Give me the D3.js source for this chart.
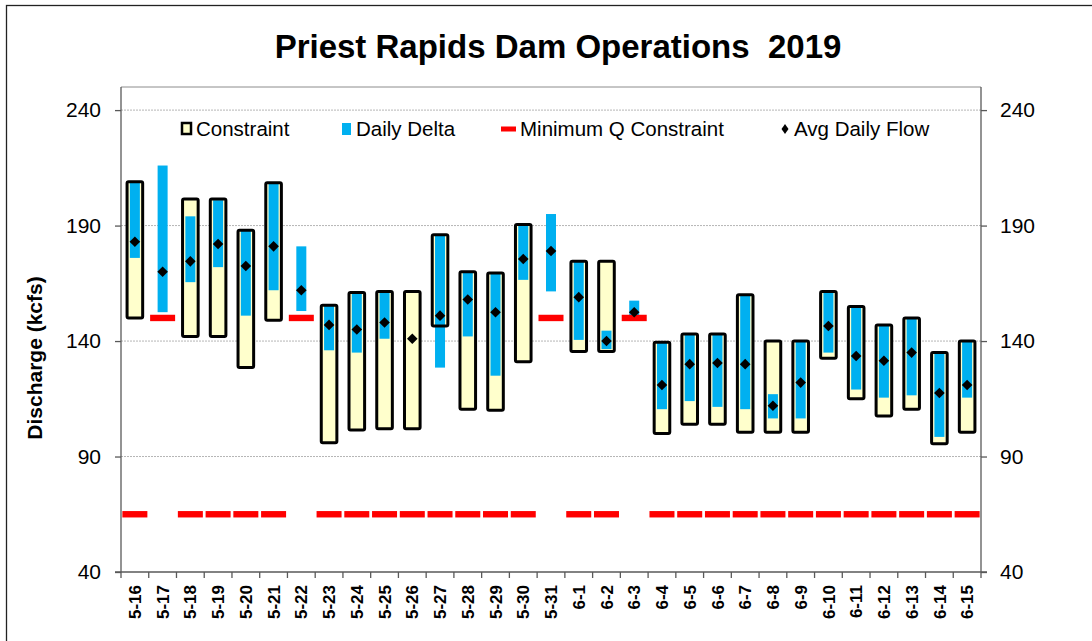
<!DOCTYPE html>
<html>
<head>
<meta charset="utf-8">
<script src="https://cdn.jsdelivr.net/npm/d3@7"></script>
<style>
  body { margin: 0; background: #fff; }
  svg { display: block; font-family: Arial, "Liberation Sans", sans-serif; }
</style>
</head>
<body>
<div id="chart"></div>
<script>
// Priest Rapids Dam Operations 2019 (kcfs)
const dates = ["5-16","5-17","5-18","5-19","5-20","5-21","5-22","5-23","5-24","5-25","5-26",
    "5-27","5-28","5-29","5-30","5-31","6-1","6-2","6-3","6-4","6-5","6-6","6-7","6-8",
    "6-9","6-10","6-11","6-12","6-13","6-14","6-15"];

const constraintMax = [209, null, 201.5, 201.5, 188, 208.5, null, 155.5, 161, 161.5, 161.5,
    186, 170, 169.5, 190.5, null, 174.5, 174.5, null, 139.5, 143, 143, 160, 140,
    140, 161.5, 155, 147, 150, 135, 140];
const constraintMin = [150, null, 142, 142, 128.5, 149, null, 96, 101.5, 102, 102,
    146.5, 110.5, 110, 131, null, 135.5, 135.5, null, 100, 104, 104, 100.5, 100.5,
    100.5, 132.5, 115, 107.5, 110.5, 95.5, 100.5];

const deltaMax = [208.5, 216, 194, 201, 188, 208, 181, 155.5, 161, 161.5, null,
    186, 170, 169.5, 190.5, 195, 174.5, 144.5, 157.5, 139.5, 143, 143, 160, 117,
    140, 161.5, 155, 147, 150, 135, 140];
const deltaMin = [176, 152.5, 165.5, 172, 151, 162, 153, 136, 135, 141, null,
    128.5, 142, 125, 166.5, 161.5, 140.5, 136.5, 150, 110.5, 114, 111.5, 110.5, 106.5,
    106.5, 135, 119, 115.5, 116.5, 98.5, 115.5];

const minQ = [65, 150, 65, 65, 65, 65, 150, 65, 65, 65, 65,
    65, 65, 65, 65, 150, 65, 65, 150, 65, 65, 65, 65, 65,
    65, 65, 65, 65, 65, 65, 65];

const avgFlow = [183, 170, 174.5, 182, 172.5, 181, 162, 147, 145, 148, 141,
    151, 158, 152.5, 175.5, 179, 159, 140, 152.5, 121, 130, 130.5, 130, 112,
    122, 146.5, 133.5, 131.5, 135, 117.5, 121];

const yTicks = [40, 90, 140, 190, 240];

const width = 1092;
const height = 641;
const margin = {top: 87, left: 121, right: 111, bottom: 69};

const svg = d3.select("#chart")
    .append("svg")
    .attr("width", width)
    .attr("height", height);

// outer chart frame
svg.append("rect")
    .attr("x", 6.5).attr("y", 5.5)
    .attr("width", 1200).attr("height", 800)
    .attr("fill", "none")
    .attr("stroke", "#222")
    .attr("stroke-width", 1.3);

const xScale = d3.scaleBand()
    .domain(dates)
    .range([margin.left, width - margin.right]);

const yScale = d3.scaleLinear()
    .domain([40, 250])
    .range([height - margin.bottom, margin.top]);

const rows = dates.map(function(d, i) {
    return {
        date: d,
        cMax: constraintMax[i], cMin: constraintMin[i],
        dMax: deltaMax[i], dMin: deltaMin[i],
        q: minQ[i], avg: avgFlow[i]
    };
});

// gridlines
svg.selectAll(".grid")
    .data(yTicks.filter(function(t) { return t > 40; }))
    .enter()
    .append("line")
        .attr("x1", margin.left).attr("x2", width - margin.right)
        .attr("y1", function(d) { return yScale(d); })
        .attr("y2", function(d) { return yScale(d); })
        .attr("stroke", "#b5b5b5")
        .attr("stroke-width", 1)
        .attr("stroke-dasharray", "2,1");

// plot area top border
svg.append("line")
    .attr("x1", margin.left).attr("x2", width - margin.right)
    .attr("y1", yScale(250)).attr("y2", yScale(250))
    .attr("stroke", "#8c8c8c");

const cx = function(d) { return xScale(d.date) + xScale.bandwidth() / 2; };

// constraint boxes (fill first)
const boxW = 15.6;
const boxes = rows.filter(function(d) { return d.cMax !== null; });

svg.selectAll(".box-fill")
    .data(boxes)
    .enter()
    .append("rect")
        .attr("x", function(d) { return cx(d) - boxW / 2; })
        .attr("y", function(d) { return yScale(d.cMax); })
        .attr("width", boxW)
        .attr("height", function(d) { return yScale(d.cMin) - yScale(d.cMax); })
        .attr("rx", 1.5)
        .attr("fill", "#ffffcc");

// daily delta
const deltaW = 10;
svg.selectAll(".delta")
    .data(rows.filter(function(d) { return d.dMax !== null; }))
    .enter()
    .append("rect")
        .attr("x", function(d) { return cx(d) - deltaW / 2; })
        .attr("y", function(d) { return yScale(d.dMax); })
        .attr("width", deltaW)
        .attr("height", function(d) { return yScale(d.dMin) - yScale(d.dMax); })
        .attr("fill", "#00b0f0");

// constraint box outlines
svg.selectAll(".box-line")
    .data(boxes)
    .enter()
    .append("rect")
        .attr("x", function(d) { return cx(d) - boxW / 2; })
        .attr("y", function(d) { return yScale(d.cMax); })
        .attr("width", boxW)
        .attr("height", function(d) { return yScale(d.cMin) - yScale(d.cMax); })
        .attr("rx", 1.5)
        .attr("fill", "none")
        .attr("stroke", "#000")
        .attr("stroke-width", 3);

// minimum Q constraint dashes
svg.selectAll(".minq")
    .data(rows)
    .enter()
    .append("rect")
        .attr("x", function(d) { return cx(d) - 12.5; })
        .attr("y", function(d) { return yScale(d.q) - 3.2; })
        .attr("width", 25)
        .attr("height", 6.4)
        .attr("fill", "#ff0000");

// avg daily flow diamonds
svg.selectAll(".avg")
    .data(rows)
    .enter()
    .append("path")
        .attr("d", "M0,-5.3L5.3,0L0,5.3L-5.3,0Z")
        .attr("transform", function(d) { return `translate(${cx(d)},${yScale(d.avg)})`; })
        .attr("fill", "#000");

// axes
const leftAxis = svg.append("g")
    .attr("transform", `translate(${margin.left},0)`)
    .call(d3.axisLeft(yScale).tickValues(yTicks).tickSize(6).tickPadding(14));

const rightAxis = svg.append("g")
    .attr("transform", `translate(${width - margin.right},0)`)
    .call(d3.axisRight(yScale).tickValues(yTicks).tickSize(6).tickPadding(13));

[leftAxis, rightAxis].forEach(function(g) {
    g.select(".domain").attr("stroke", "#595959").attr("stroke-width", 1.3)
        .attr("d", `M0,${yScale(250)}V${yScale(40)}`);
    g.selectAll(".tick line").attr("stroke", "#595959").attr("stroke-width", 1.3);
    g.selectAll("text")
        .style("font-size", "21px")
        .attr("fill", "#000")
        .style("font-family", "Arial, 'Liberation Sans', sans-serif");
});

const bottomAxis = svg.append("g")
    .attr("transform", `translate(0,${yScale(40)})`)
    .call(d3.axisBottom(xScale).tickSize(0).tickPadding(0));

bottomAxis.select(".domain")
    .attr("stroke", "#595959").attr("stroke-width", 1.3)
    .attr("d", `M${margin.left - 6},0H${width - margin.right + 6}`);

bottomAxis.selectAll("text")
    .attr("transform", "rotate(-90)")
    .attr("x", -13)
    .attr("y", 0)
    .attr("dy", "0.36em")
    .style("text-anchor", "end")
    .style("font-size", "17px")
    .style("font-weight", "bold")
    .style("font-family", "Arial, 'Liberation Sans', sans-serif")
    .attr("fill", "#000");

// category boundary ticks
const bounds = dates.map(function(d) { return xScale(d); })
    .concat([xScale(dates[dates.length - 1]) + xScale.step()]);

bottomAxis.selectAll(".btick")
    .data(bounds)
    .enter()
    .append("line")
        .attr("x1", function(d) { return d; })
        .attr("x2", function(d) { return d; })
        .attr("y1", 0).attr("y2", 6)
        .attr("stroke", "#595959")
        .attr("stroke-width", 1.3);

// titles
svg.append("text")
    .attr("x", 558)
    .attr("y", 58)
    .style("text-anchor", "middle")
    .style("font-size", "33px")
    .style("font-weight", "bold")
    .style("white-space", "pre")
    .text("Priest Rapids Dam Operations  2019");

svg.append("text")
    .attr("transform", "translate(42,358) rotate(-90)")
    .style("text-anchor", "middle")
    .style("font-size", "21px")
    .style("font-weight", "bold")
    .text("Discharge (kcfs)");

// legend
const legendY = 129;
const legend = svg.append("g").style("font-size", "20.5px");

legend.append("rect")
    .attr("x", 182).attr("y", legendY - 6)
    .attr("width", 9).attr("height", 11)
    .attr("fill", "#ffffcc").attr("stroke", "#000").attr("stroke-width", 2.5);
legend.append("text").attr("x", 196).attr("y", legendY + 7).text("Constraint");

legend.append("rect")
    .attr("x", 342).attr("y", legendY - 6)
    .attr("width", 9).attr("height", 12)
    .attr("fill", "#00b0f0");
legend.append("text").attr("x", 356).attr("y", legendY + 7).text("Daily Delta");

legend.append("rect")
    .attr("x", 501).attr("y", legendY - 2.5)
    .attr("width", 15).attr("height", 5)
    .attr("fill", "#ff0000");
legend.append("text").attr("x", 520).attr("y", legendY + 7).text("Minimum Q Constraint");

legend.append("path")
    .attr("d", "M0,-5L3.5,0L0,5L-3.5,0Z")
    .attr("transform", `translate(785,${legendY})`)
    .attr("fill", "#000");
legend.append("text").attr("x", 794).attr("y", legendY + 7).text("Avg Daily Flow");
</script>
</body>
</html>
